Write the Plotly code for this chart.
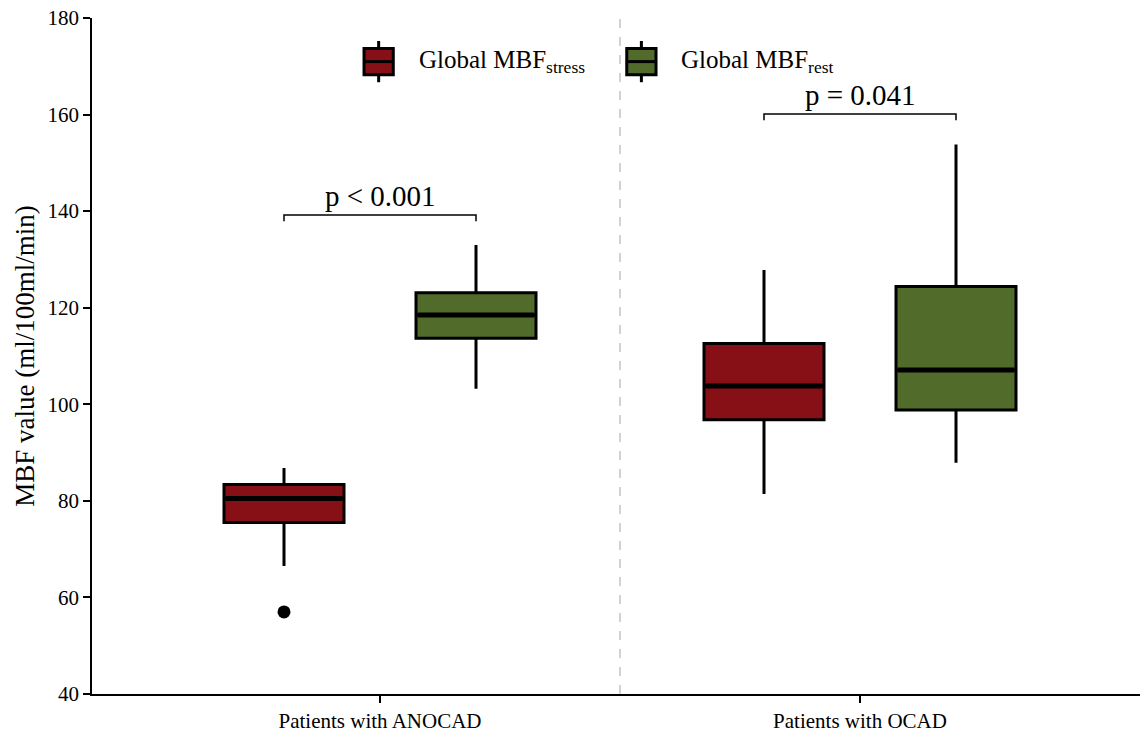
import plotly.graph_objects as go

categories = ["Patients with ANOCAD", "Patients with OCAD"]

# Global MBF stress
stress_lower = [66.5, 81.4]
stress_q1 = [75.5, 96.8]
stress_median = [80.5, 103.8]
stress_q3 = [83.4, 112.6]
stress_upper = [86.8, 127.8]
stress_outlier_cat = [0]
stress_outlier_val = [57.0]

# Global MBF rest
rest_lower = [103.2, 87.9]
rest_q1 = [113.7, 98.8]
rest_median = [118.5, 107.1]
rest_q3 = [123.1, 124.4]
rest_upper = [133.0, 153.8]

series_names = ["Global MBF<sub>stress</sub>", "Global MBF<sub>rest</sub>"]
p_labels = ["p < 0.001", "p = 0.041"]
bracket_y = [139.2, 160.1]

stress_color = "#871016"
rest_color = "#506B2A"
FONT = "Liberation Serif, Times New Roman, serif"

half = 0.2   # offset of each box from its category centre
bw = 0.25    # box width in category units
idx = list(range(len(categories)))

fig = go.Figure()
for name, col, off, lo, q1, med, q3, up in [
    (series_names[0], stress_color, -half, stress_lower, stress_q1, stress_median, stress_q3, stress_upper),
    (series_names[1], rest_color, half, rest_lower, rest_q1, rest_median, rest_q3, rest_upper),
]:
    fig.add_trace(go.Box(
        name=name, x=[i + off for i in idx],
        q1=q1, median=med, q3=q3, lowerfence=lo, upperfence=up,
        width=bw,
        fillcolor=col, line=dict(color="black", width=3),
        whiskerwidth=0, boxpoints=False,
        hoverinfo="skip", showlegend=False,
    ))

fig.add_trace(go.Scatter(
    x=[i - half for i in stress_outlier_cat], y=stress_outlier_val, mode="markers",
    marker=dict(color="black", size=13), showlegend=False, hoverinfo="skip",
))

shapes = []
annotations = []
# thicker median lines
for i in idx:
    for off, med in [(-half, stress_median[i]), (half, rest_median[i])]:
        shapes.append(dict(type="line", xref="x", yref="y",
                           x0=i + off - bw / 2 + 0.004, x1=i + off + bw / 2 - 0.004,
                           y0=med, y1=med, line=dict(color="black", width=5)))
# significance brackets
for i in idx:
    yb = bracket_y[i]
    shapes.append(dict(type="path", xref="x", yref="y",
                       path=f"M {i-half},{yb-1.3} L {i-half},{yb} L {i+half},{yb} L {i+half},{yb-1.3}",
                       line=dict(color="black", width=1.5)))
    annotations.append(dict(x=i, y=yb, xref="x", yref="y", text=p_labels[i],
                            showarrow=False, yanchor="bottom", yshift=1,
                            font=dict(family=FONT, size=29, color="black")))
# dashed separator
shapes.append(dict(type="line", xref="x", yref="paper", x0=0.5, x1=0.5, y0=0, y1=1,
                   line=dict(color="#c4c4c4", width=1.5, dash="dash"), layer="below"))

# custom legend (box-shaped keys like the reference)
legend_keys = [(0.2576, 0.2853, 0.3082, stress_color), (0.5064, 0.5341, 0.5563, rest_color)]
for (kx0, kx1, tx, col), name in zip(legend_keys, series_names):
    kc = (kx0 + kx1) / 2
    shapes.append(dict(type="line", xref="paper", yref="paper", x0=kc, x1=kc, y0=0.905, y1=0.966,
                       line=dict(color="black", width=3)))
    shapes.append(dict(type="rect", xref="paper", yref="paper", x0=kx0, x1=kx1, y0=0.916, y1=0.955,
                       fillcolor=col, line=dict(color="black", width=3)))
    shapes.append(dict(type="line", xref="paper", yref="paper", x0=kx0, x1=kx1, y0=0.9355, y1=0.9355,
                       line=dict(color="black", width=3)))
    annotations.append(dict(x=tx, y=0.936, xref="paper", yref="paper", text=name,
                            showarrow=False, xanchor="left", yanchor="middle",
                            font=dict(family=FONT, size=25, color="black")))

# the page places the figure 8px in from the top-left corner
fig.update_layout(
    width=1140, height=721,
    margin=dict(l=84, r=0, t=10, b=35),
    paper_bgcolor="white", plot_bgcolor="white",
    font=dict(family=FONT, color="black"),
    shapes=shapes, annotations=annotations,
    showlegend=False,
    xaxis=dict(range=[-0.6, 1.6], tickvals=idx, ticktext=categories, automargin=False,
               showline=True, linecolor="black", linewidth=1.5,
               ticks="outside", ticklen=7, tickcolor="black", tickwidth=1.5,
               tickfont=dict(family=FONT, size=21), showgrid=False, zeroline=False,
               ticklabeloverflow="allow"),
    yaxis=dict(range=[40, 180], tickvals=[40, 60, 80, 100, 120, 140, 160, 180], automargin=False,
               showline=True, linecolor="black", linewidth=1.5,
               ticks="outside", ticklen=7, tickcolor="black", tickwidth=1.5,
               tickfont=dict(family=FONT, size=21), showgrid=False, zeroline=False,
               ticklabeloverflow="allow",
               title=dict(text="MBF value (ml/100ml/min)", font=dict(family=FONT, size=27), standoff=5)),
)

fig.write_html("out.html")
